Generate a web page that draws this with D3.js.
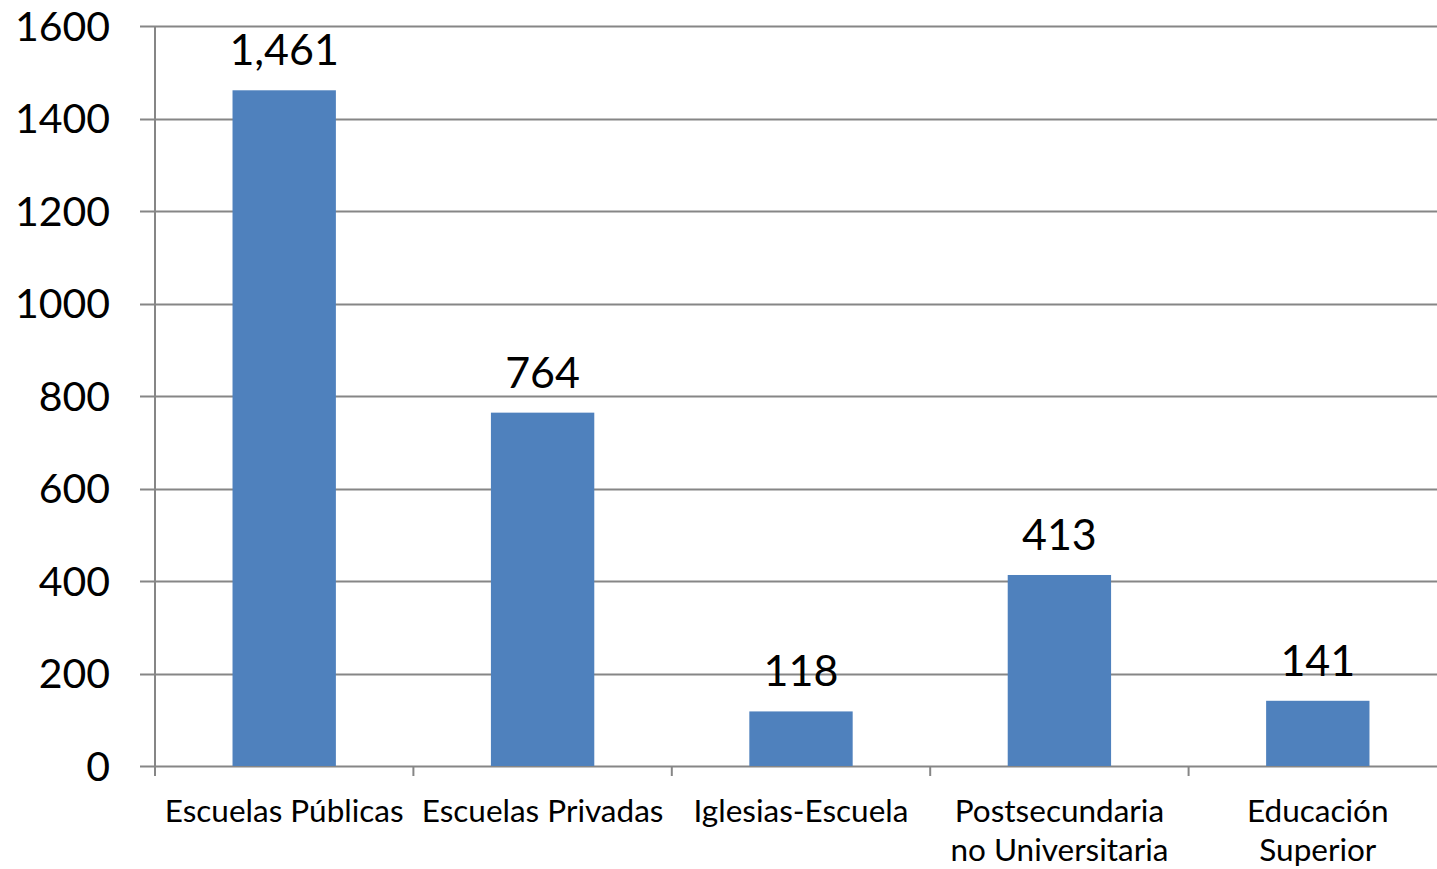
<!DOCTYPE html>
<html>
<head>
<meta charset="utf-8">
<script src="https://cdn.jsdelivr.net/npm/d3@7"></script>
<style>
  body { margin: 0; background: #fff; overflow: hidden; }
  text { font-family: Lato, "Open Sans", sans-serif; fill: #000; }
</style>
</head>
<body>
<div id="chart"></div>
<script>
// data
var categories = [
    ["Escuelas Públicas"],
    ["Escuelas Privadas"],
    ["Iglesias-Escuela"],
    ["Postsecundaria", "no Universitaria"],
    ["Educación", "Superior"]
];
var values = [1461, 764, 118, 413, 141];
var yTicks = [0, 200, 400, 600, 800, 1000, 1200, 1400, 1600];

createChart();

function createChart() {
    var width = 1437, height = 869;
    var plotLeft = 155, plotRight = 1447; // plot runs slightly past the window
    var plotTop = 26, plotBottom = 766;
    var gridColor = "#868686";

    var svg = d3.select("#chart").append("svg")
        .attr("width", width)
        .attr("height", height);

    var x = d3.scaleBand()
        .domain(d3.range(values.length))
        .range([plotLeft, plotRight])
        .paddingInner(0.6)
        .paddingOuter(0.3);

    var y = d3.scaleLinear()
        .domain([0, 1600])
        .range([plotBottom, plotTop]);

    // gridlines + left ticks
    svg.append("g").selectAll("line")
        .data(yTicks)
        .enter().append("line")
        .attr("x1", plotLeft - 15)
        .attr("x2", width)
        .attr("y1", function (d) { return Math.round(y(d)) + 0.5; })
        .attr("y2", function (d) { return Math.round(y(d)) + 0.5; })
        .style("stroke", gridColor)
        .style("stroke-width", 2);

    // y labels
    svg.append("g").selectAll("text")
        .data(yTicks)
        .enter().append("text")
        .attr("x", 110)
        .attr("y", function (d) { return y(d); })
        .attr("dy", "0.36em")
        .style("text-anchor", "end")
        .style("font-size", "41px")
        .text(function (d) { return d; });

    // bars
    svg.append("g").selectAll("rect")
        .data(values)
        .enter().append("rect")
        .attr("x", function (d, i) { return x(i); })
        .attr("width", x.bandwidth())
        .attr("y", function (d) { return y(d); })
        .attr("height", function (d) { return y(0) - y(d); })
        .style("fill", "#4f81bd");

    // y axis line
    svg.append("line")
        .attr("x1", plotLeft).attr("x2", plotLeft)
        .attr("y1", plotTop).attr("y2", y(0) + 10)
        .style("stroke", gridColor)
        .style("stroke-width", 2);

    // x axis ticks between categories
    var step = x.step();
    svg.append("g").selectAll("line")
        .data(d3.range(values.length + 1))
        .enter().append("line")
        .attr("x1", function (d) { return plotLeft + d * step; })
        .attr("x2", function (d) { return plotLeft + d * step; })
        .attr("y1", y(0))
        .attr("y2", y(0) + 10)
        .style("stroke", gridColor)
        .style("stroke-width", 2);

    // value labels
    var fmt = d3.format(",");
    svg.append("g").selectAll("text")
        .data(values)
        .enter().append("text")
        .attr("x", function (d, i) { return x(i) + x.bandwidth() / 2; })
        .attr("y", function (d) { return y(d) - 25; })
        .style("text-anchor", "middle")
        .style("font-size", "43px")
        .text(function (d) { return fmt(d); });

    // category labels
    var cat = svg.append("g").selectAll("text")
        .data(categories)
        .enter().append("text")
        .attr("x", function (d, i) { return x(i) + x.bandwidth() / 2; })
        .attr("y", 822)
        .style("text-anchor", "middle")
        .style("font-size", "31.5px");
    cat.selectAll("tspan")
        .data(function (d) { return d; })
        .enter().append("tspan")
        .attr("x", function () { return d3.select(this.parentNode).attr("x"); })
        .attr("dy", function (d, i) { return i === 0 ? 0 : 39; })
        .text(function (d) { return d; });
}
</script>
</body>
</html>
